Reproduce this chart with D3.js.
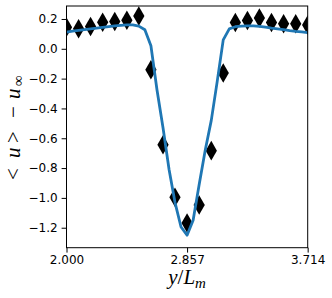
<!DOCTYPE html>
<html>
<head>
<meta charset="utf-8">
<script src="https://cdn.jsdelivr.net/npm/d3@7"></script>
<style>
  html, body { margin: 0; padding: 0; background: #fff; }
  svg { display: block; }
  .tick text { font-family: "DejaVu Sans", sans-serif; font-size: 12px; fill: #000; }
  .mathlabel { font-family: "Liberation Serif", "DejaVu Serif", serif; font-size: 21px; fill: #000; }
</style>
</head>
<body>
<svg id="chart" width="332" height="298"></svg>
<script>
// measured points (diamonds)
const markerX = [2.000, 2.086, 2.171, 2.257, 2.343, 2.429, 2.514, 2.600, 2.686, 2.771, 2.857,
                 2.943, 3.029, 3.114, 3.200, 3.286, 3.371, 3.457, 3.543, 3.629, 3.714];
const markerY = [0.144, 0.134, 0.150, 0.178, 0.183, 0.191, 0.220, -0.141, -0.644, -0.995, -1.168,
                 -1.047, -0.683, -0.163, 0.177, 0.190, 0.206, 0.177, 0.168, 0.168, 0.159];

// model curve (blue line)
const lineX = [2.000, 2.043, 2.086, 2.129, 2.171, 2.214, 2.257, 2.300, 2.343, 2.386, 2.429,
               2.471, 2.514, 2.557, 2.600, 2.643, 2.686, 2.729, 2.771, 2.814, 2.857,
               2.900, 2.943, 2.986, 3.029, 3.071, 3.114, 3.157, 3.200, 3.243, 3.286,
               3.329, 3.371, 3.414, 3.457, 3.500, 3.543, 3.586, 3.629, 3.671, 3.714];
const lineY = [0.112, 0.118, 0.123, 0.128, 0.133, 0.138, 0.143, 0.148, 0.153, 0.157, 0.160,
               0.160, 0.152, 0.128, 0.020, -0.275, -0.530, -0.810, -1.030, -1.195, -1.250,
               -1.150, -0.910, -0.680, -0.480, -0.220, 0.060, 0.134, 0.148, 0.152, 0.154,
               0.154, 0.150, 0.145, 0.139, 0.134, 0.128, 0.122, 0.117, 0.113, 0.109];

const xTicks = [2.000, 2.857, 3.714];
const yTicks = [-1.2, -1.0, -0.8, -0.6, -0.4, -0.2, 0.0, 0.2];
const xDomain = [2.000, 3.7143];
const yDomain = [-1.334, 0.287];

const plotLeft = 66.5, plotRight = 307.7, plotTop = 6, plotBottom = 247.7;

const svg = d3.select("#chart");

const x = d3.scaleLinear().domain(xDomain).range([plotLeft, plotRight]);
const y = d3.scaleLinear().domain(yDomain).range([plotBottom, plotTop]);

svg.append("defs").append("clipPath").attr("id", "plotArea")
  .append("rect")
  .attr("x", plotLeft).attr("y", plotTop)
  .attr("width", plotRight - plotLeft).attr("height", plotBottom - plotTop);

const plot = svg.append("g").attr("clip-path", "url(#plotArea)");

// diamonds under the line
plot.selectAll("path.pt")
  .data(markerX.map((d, i) => [d, markerY[i]]))
  .join("path")
  .attr("class", "pt")
  .attr("d", d3.symbol(d3.symbolDiamond, 110))
  .attr("transform", d => `translate(${x(d[0])},${y(d[1])})`)
  .attr("fill", "#000");

plot.append("path")
  .datum(lineX.map((d, i) => [d, lineY[i]]))
  .attr("fill", "none")
  .attr("stroke", "#1f77b4")
  .attr("stroke-width", 2.8)
  .attr("stroke-linejoin", "round")
  .attr("d", d3.line().x(d => x(d[0])).y(d => y(d[1])));

// axes
const minus = s => s.replace("-", "\u2212");

const xAxis = svg.append("g")
  .attr("transform", `translate(0,${plotBottom})`)
  .call(d3.axisBottom(x).tickValues(xTicks).tickFormat(d3.format(".3f"))
    .tickSizeInner(4.9).tickSizeOuter(0).tickPadding(3));
xAxis.select(".domain").remove();

const yAxis = svg.append("g")
  .attr("transform", `translate(${plotLeft},0)`)
  .call(d3.axisLeft(y).tickValues(yTicks).tickFormat(d => minus(d3.format(".1f")(d)))
    .tickSizeInner(4.9).tickSizeOuter(0).tickPadding(4));
yAxis.select(".domain").remove();

svg.selectAll(".tick line").attr("stroke", "#000").attr("stroke-width", 1);

// frame
svg.append("rect")
  .attr("x", plotLeft).attr("y", plotTop)
  .attr("width", plotRight - plotLeft).attr("height", plotBottom - plotTop)
  .attr("fill", "none").attr("stroke", "#000").attr("stroke-width", 1);

// x label: y / L_m
const xl = svg.append("text").attr("class", "mathlabel")
  .attr("x", (plotLeft + plotRight) / 2).attr("y", 284)
  .attr("text-anchor", "middle");
xl.append("tspan").attr("font-style", "italic").text("y");
xl.append("tspan").text("/");
xl.append("tspan").attr("font-style", "italic").text("L");
xl.append("tspan").attr("font-style", "italic").attr("font-size", "15px").attr("dy", 4).text("m");

// y label: < u > − u_inf, glyphs spaced like TeX relations
const yl = svg.append("text").attr("class", "mathlabel")
  .attr("transform", "translate(20,182) rotate(-90)");
yl.append("tspan").attr("x", 2).text("<");
yl.append("tspan").attr("x", 24).attr("font-style", "italic").text("u");
yl.append("tspan").attr("x", 39).text(">");
yl.append("tspan").attr("x", 64).text("\u2212");
yl.append("tspan").attr("x", 83).attr("font-style", "italic").text("u");
yl.append("tspan").attr("x", 96).attr("font-size", "15px").attr("dy", 3).text("\u221e");
</script>
</body>
</html>
